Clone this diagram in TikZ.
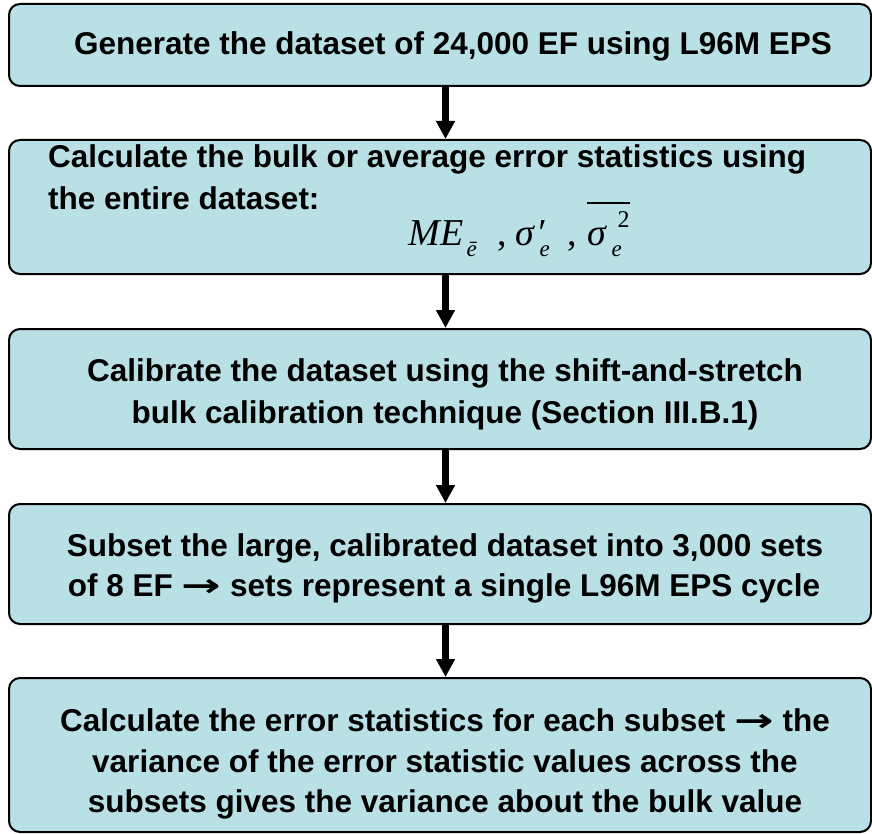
\documentclass[tikz,border=0pt]{standalone}
\usepackage{fontspec}
\usepackage{graphicx}
\setmainfont{Liberation Sans}
\newfontfamily\tnr{Liberation Serif}
\newfontfamily\dvs{DejaVu Sans}
\usetikzlibrary{arrows.meta}
\definecolor{boxfill}{RGB}{185,224,228}
\newcommand{\fml}{\fontsize{38}{38}\selectfont\tnr\itshape}
\newcommand{\fms}{\fontsize{23}{23}\selectfont\tnr\itshape}
\newcommand{\fmu}{\fontsize{24}{24}\selectfont\tnr\upshape}
\newcommand{\fmc}{\fontsize{38}{38}\selectfont\tnr\upshape}
\newcommand{\rarr}{\scalebox{1.5}[1]{\dvs\bfseries →}}
\newcommand{\sub}[1]{\raisebox{-10pt}{\fms #1}}
\newcommand{\putat}[2]{\rlap{\hspace{#1}#2}}
\begin{document}
\begin{tikzpicture}[x=1pt,y=-1pt,
  box/.style={draw=black, line width=2pt, fill=boxfill, rounded corners=11pt,
              minimum width=862pt, inner sep=0pt},
  txt/.style={font=\fontsize{31.5}{36}\selectfont\bfseries, inner sep=0pt, anchor=base},
  flow/.style={line width=6.5pt, -{Triangle[width=18pt,length=18pt]}}]
\useasboundingbox (0,0) rectangle (872,834);
% boxes
\node[box, minimum height=82pt]  (b1) at (440,45)  {};
\node[box, minimum height=134pt] (b2) at (440,207) {};
\node[box, minimum height=120pt] (b3) at (440,389) {};
\node[box, minimum height=120pt] (b4) at (440,564) {};
\node[box, minimum height=154pt] (b5) at (440,755) {};
% arrow axis
\coordinate (ax) at (445.5,0);
\draw[flow] (b1.south -| ax) -- (b2.north -| ax);
\draw[flow] (b2.south -| ax) -- (b3.north -| ax);
\draw[flow] (b3.south -| ax) -- (b4.north -| ax);
\draw[flow] (b4.south -| ax) -- (b5.north -| ax);
% texts
\node[txt] (t11) at (453,55) {Generate the dataset of 24,000 EF using L96M EPS};
\node[txt, anchor=base west] (t21) at (48,168) {Calculate the bulk or average error statistics using};
\node[txt, anchor=base west] (t22) at (48,210) {the entire dataset:};
\node[inner sep=0pt, anchor=base west] (f2) at (408,246)
  {\putat{0pt}{\fml ME}%
   \putat{58pt}{\sub{ē}}%
   \putat{89pt}{\fmc ,}%
   \putat{107pt}{\fml σ}%
   \putat{128pt}{\fml ′}%
   \putat{131pt}{\sub{e}}%
   \putat{159pt}{\fmc ,}%
   \putat{178pt}{\raisebox{42pt}{\rule{43pt}{1.6pt}}}%
   \putat{179pt}{\fml σ}%
   \putat{203pt}{\sub{e}}%
   \putat{209pt}{\raisebox{18pt}{\fmu 2}}%
   \hspace{221pt}};
\node[txt] (t31) at (445,381) {Calibrate the dataset using the shift-and-stretch};
\node[txt] (t32) at (445,423) {bulk calibration technique (Section III.B.1)};
\node[txt] (t41) at (445,556) {Subset the large, calibrated dataset into 3,000 sets};
\node[txt] (t42) at (444,596) {of 8 EF \rarr{} sets represent a single L96M EPS cycle};
\node[txt] (t51) at (445,731) {Calculate the error statistics for each subset \rarr{} the};
\node[txt] (t52) at (445,772) {variance of the error statistic values across the};
\node[txt] (t53) at (445,812) {subsets gives the variance about the bulk value};
\end{tikzpicture}
\end{document}
